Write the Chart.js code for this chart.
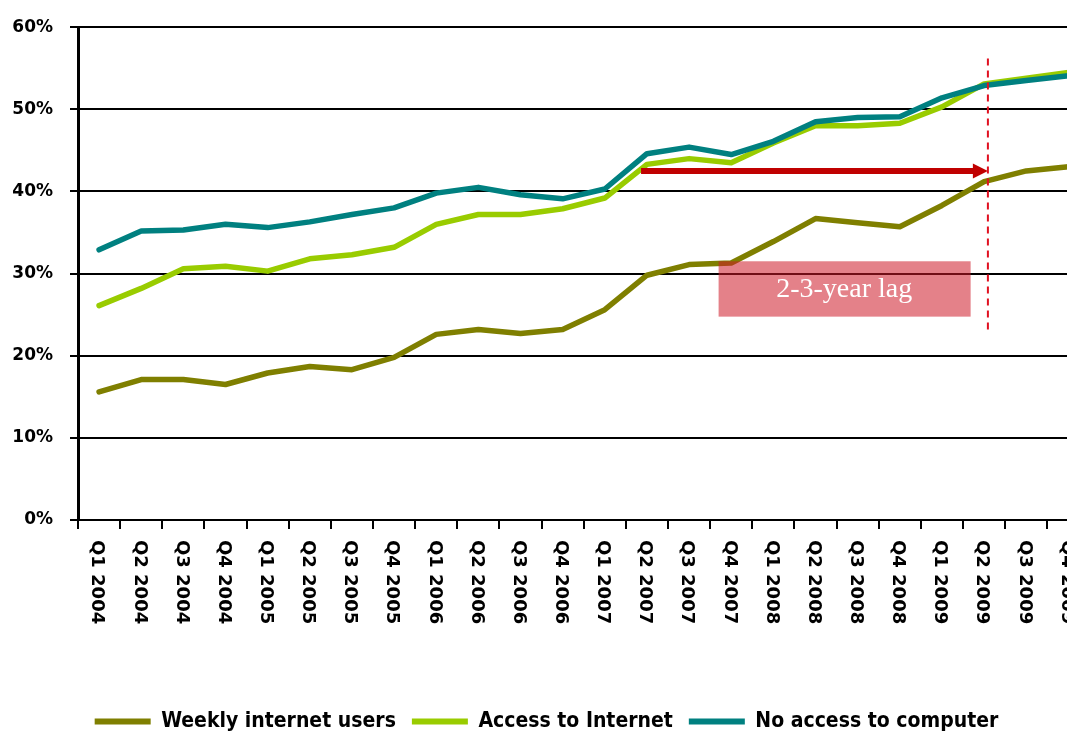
<!DOCTYPE html>
<html>
<head>
<meta charset="utf-8">
<script src="https://cdn.jsdelivr.net/npm/chart.js@4.4.1/dist/chart.umd.min.js"></script>
<style>
html,body{margin:0;padding:0;background:#fff;overflow:hidden;}
#wrap{position:relative;width:1067px;height:735px;overflow:hidden;background:#fff;}
#wrap canvas{position:absolute;left:0;top:0;}
</style>
</head>
<body>
<div id="wrap"><canvas id="c" width="1093" height="742" style="width:1093px;height:742px"></canvas></div>
<script>
// ---- data ----
const categories = [
  'Q1 2004','Q2 2004','Q3 2004','Q4 2004',
  'Q1 2005','Q2 2005','Q3 2005','Q4 2005',
  'Q1 2006','Q2 2006','Q3 2006','Q4 2006',
  'Q1 2007','Q2 2007','Q3 2007','Q4 2007',
  'Q1 2008','Q2 2008','Q3 2008','Q4 2008',
  'Q1 2009','Q2 2009','Q3 2009','Q4 2009'
];
const seriesNames = ['Weekly internet users', 'Access to Internet', 'No access to computer'];
const weeklyUsers = [15.6, 17.1, 17.1, 16.5, 17.9, 18.7, 18.3, 19.8, 22.6, 23.2, 22.7, 23.2, 25.6, 29.8, 31.1, 31.3, 33.9, 36.7, 36.2, 35.7, 38.3, 41.2, 42.5, 43.0];
const accessInternet = [26.1, 28.2, 30.6, 30.9, 30.3, 31.8, 32.3, 33.2, 36.0, 37.2, 37.2, 37.9, 39.2, 43.3, 44.0, 43.5, 45.9, 48.0, 48.0, 48.3, 50.3, 53.1, 53.8, 54.5];
const noAccessComputer = [32.9, 35.2, 35.3, 36.0, 35.6, 36.3, 37.2, 38.0, 39.8, 40.5, 39.6, 39.1, 40.3, 44.6, 45.4, 44.5, 46.1, 48.5, 49.0, 49.1, 51.4, 52.9, 53.5, 54.1];
const yTickLabels = ['0%', '10%', '20%', '30%', '40%', '50%', '60%'];
const lagLabel = '2-3-year lag';

// ---- annotation anchors (in data units: category index / percent) ----
const lagBox = { x0: 14.7, x1: 20.68, y0: 31.5, y1: 24.76, textX: 17.68, textY: 28.0 };
const lagArrow = { x0: 12.86, x1: 21.09, y: 42.48 };
const lagMarker = { x: 21.09, yTop: 56.2, yBottom: 23.0 };

const colors = ['#7f7f00', '#99cc00', '#008080'];

const annotPlugin = {
  id: 'annot',
  afterDatasetsDraw(chart) {
    const { ctx, scales: { x, y } } = chart;
    ctx.save();
    // shaded label box
    const bx0 = x.getPixelForValue(lagBox.x0), bx1 = x.getPixelForValue(lagBox.x1);
    const by0 = y.getPixelForValue(lagBox.y0), by1 = y.getPixelForValue(lagBox.y1);
    ctx.fillStyle = 'rgba(205, 25, 40, 0.55)';
    ctx.fillRect(bx0, by0, bx1 - bx0, by1 - by0);
    ctx.fillStyle = '#ffffff';
    ctx.font = '28px "Liberation Serif", "Times New Roman", serif';
    ctx.textAlign = 'center';
    ctx.textBaseline = 'middle';
    ctx.fillText(lagLabel, x.getPixelForValue(lagBox.textX), y.getPixelForValue(lagBox.textY));
    // arrow
    const ax0 = x.getPixelForValue(lagArrow.x0), ax1 = x.getPixelForValue(lagArrow.x1);
    const ay = y.getPixelForValue(lagArrow.y);
    ctx.strokeStyle = '#c00000';
    ctx.lineWidth = 6;
    ctx.beginPath();
    ctx.moveTo(ax0, ay);
    ctx.lineTo(ax1 - 14, ay);
    ctx.stroke();
    ctx.fillStyle = '#c00000';
    ctx.beginPath();
    ctx.moveTo(ax1, ay);
    ctx.lineTo(ax1 - 15, ay - 7.5);
    ctx.lineTo(ax1 - 15, ay + 7.5);
    ctx.closePath();
    ctx.fill();
    // dashed marker
    const mx = x.getPixelForValue(lagMarker.x);
    ctx.strokeStyle = '#e01020';
    ctx.lineWidth = 2;
    ctx.setLineDash([7, 5]);
    ctx.beginPath();
    ctx.moveTo(mx, y.getPixelForValue(lagMarker.yTop));
    ctx.lineTo(mx, y.getPixelForValue(lagMarker.yBottom));
    ctx.stroke();
    ctx.restore();
  },
  afterDraw(chart) {
    const { ctx, scales: { x } } = chart;
    ctx.save();
    ctx.font = 'bold 18px "DejaVu Sans", sans-serif';
    ctx.fillStyle = '#000';
    ctx.textAlign = 'left';
    ctx.textBaseline = 'middle';
    categories.forEach((c, i) => {
      const px = x.getPixelForValue(i);
      ctx.save();
      ctx.translate(px - 2, x.top + 20);
      ctx.rotate(Math.PI / 2);
      ctx.fillText(c, 0, 0);
      ctx.restore();
    });
    ctx.restore();
  }
};

const series = [weeklyUsers, accessInternet, noAccessComputer];
const datasets = series.map((d, i) => ({
  label: seriesNames[i],
  data: d,
  borderColor: colors[i],
  backgroundColor: colors[i],
  borderWidth: 5.5,
  pointRadius: 0,
  pointBorderWidth: 6,
  pointBorderColor: colors[i],
  pointBackgroundColor: colors[i],
  tension: 0,
  borderJoinStyle: 'round',
  borderCapStyle: 'round',
  fill: false,
  order: 3 - i
}));

new Chart(document.getElementById('c').getContext('2d'), {
  type: 'line',
  data: { labels: categories, datasets },
  options: {
    responsive: false,
    animation: false,
    devicePixelRatio: 1,
    layout: { padding: { top: 21, left: 0, right: 0, bottom: 0 } },
    scales: {
      x: {
        offset: true,
        grid: { display: true, drawOnChartArea: false, drawTicks: true, tickLength: 9, color: '#000', lineWidth: 2, offset: true },
        border: { display: true, color: '#000', width: 2 },
        ticks: { autoSkip: false, maxRotation: 90, minRotation: 90, color: 'rgba(0,0,0,0)', font: { size: 18 } },
        afterFit(s) { s.height = 175; }
      },
      y: {
        min: 0, max: 60,
        ticks: {
          stepSize: 10, padding: 17, color: '#000',
          font: { family: '"DejaVu Sans", sans-serif', weight: 'bold', size: 17 },
          callback: (v, i) => yTickLabels[i]
        },
        grid: { color: '#000', lineWidth: 2, tickLength: 8 },
        border: { display: true, color: '#000', width: 3 },
        afterFit(s) { s.width = 78; }
      }
    },
    plugins: {
      legend: {
        position: 'bottom',
        labels: {
          usePointStyle: true,
          pointStyle: 'line',
          pointStyleWidth: 56,
          padding: 16,
          color: '#000',
          sort: (a, b) => a.datasetIndex - b.datasetIndex,
          font: { family: '"Liberation Sans Narrow", "DejaVu Sans Condensed", "Roboto", sans-serif', weight: 'bold', size: 21 }
        }
      },
      tooltip: { enabled: false }
    }
  },
  plugins: [annotPlugin]
});
</script>
</body>
</html>
